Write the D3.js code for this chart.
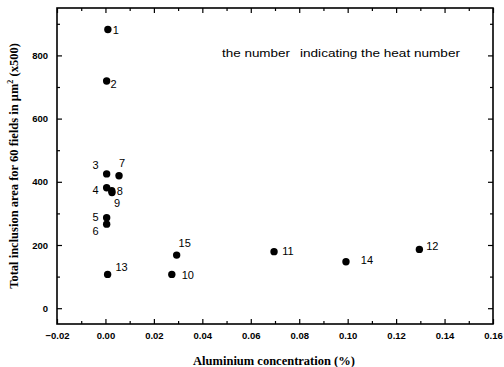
<!DOCTYPE html>
<html>
<head>
<meta charset="utf-8">
<script src="https://cdn.jsdelivr.net/npm/d3@7"></script>
<style>
    body { margin: 0; background: #fff; }
    svg { display: block; }
</style>
</head>
<body>
<svg id="chart"></svg>
<script>
//// DATA

// heat numbers and their measured values
const heats = [1, 2, 3, 4, 5, 6, 7, 8, 9, 10, 11, 12, 13, 14, 15];
const aluminium = [0.001, 0.0005, 0.0005, 0.0005, 0.0005, 0.0005, 0.0056, 0.0026, 0.0027, 0.0274, 0.0696, 0.1296, 0.0009, 0.0993, 0.0294];
const inclusionArea = [882, 719, 425, 381, 286, 266, 419, 372, 366, 107, 179, 186, 107, 147, 168];

const xTicks = [-0.02, 0, 0.02, 0.04, 0.06, 0.08, 0.10, 0.12, 0.14, 0.16];
const yTicks = [0, 200, 400, 600, 800];

// where each heat number sits next to its dot (px, label centre)
const labelOffset = {
    1: [8, 1], 2: [7, 3], 3: [-11, -9], 4: [-11, 2], 5: [-11, -1], 6: [-11, 7],
    7: [3, -13], 8: [8, 0], 9: [5, 10], 10: [16, 1], 11: [14, -1],
    12: [13, -3], 13: [14, -7], 14: [21, -2], 15: [8, -12]
};

//// SETTINGS
const width = 504;
const height = 367;
const margin = { top: 8, right: 11, bottom: 43, left: 57 };

const svg = d3.select("#chart").attr("width", width).attr("height", height);

const x = d3.scaleLinear().domain([-0.02, 0.16]).range([margin.left, width - margin.right]);
const y = d3.scaleLinear().domain([-50, 950]).range([height - margin.bottom, margin.top]);

const tickFont = "'Liberation Sans', Arial, sans-serif";
const titleFont = "'Liberation Serif', 'Times New Roman', serif";

//// DRAW
drawAxes();
drawPoints();
drawText();

function drawAxes() {
    let xMinor = d3.range(-0.01, 0.16, 0.02);
    let yMinor = d3.range(-100, 950, 100).filter(d => d % 200 != 0 && d > -50);

    // bottom axis with labels, ticks pointing in
    svg.append("g")
        .attr("transform", `translate(0,${height - margin.bottom})`)
        .call(d3.axisBottom(x).tickValues(xTicks).tickSize(-5).tickSizeOuter(0).tickPadding(8)
            .tickFormat(d3.format(".2f")));
    svg.append("g")
        .attr("transform", `translate(0,${height - margin.bottom})`)
        .call(d3.axisBottom(x).tickValues(xMinor).tickSize(-3).tickFormat(""));

    // top axis, no labels
    svg.append("g")
        .attr("transform", `translate(0,${margin.top})`)
        .call(d3.axisTop(x).tickValues(xTicks).tickSize(-5).tickFormat(""));
    svg.append("g")
        .attr("transform", `translate(0,${margin.top})`)
        .call(d3.axisTop(x).tickValues(xMinor).tickSize(-3).tickFormat(""));

    // left axis with labels
    svg.append("g")
        .attr("transform", `translate(${margin.left},0)`)
        .call(d3.axisLeft(y).tickValues(yTicks).tickSize(-5).tickSizeOuter(0).tickPadding(9));
    svg.append("g")
        .attr("transform", `translate(${margin.left},0)`)
        .call(d3.axisLeft(y).tickValues(yMinor).tickSize(-3).tickFormat(""));

    // right axis
    svg.append("g")
        .attr("transform", `translate(${width - margin.right},0)`)
        .call(d3.axisRight(y).tickValues(yTicks).tickSize(-5).tickFormat(""));
    svg.append("g")
        .attr("transform", `translate(${width - margin.right},0)`)
        .call(d3.axisRight(y).tickValues(yMinor).tickSize(-3).tickFormat(""));

    svg.selectAll(".domain").remove();
    svg.selectAll(".tick line").attr("stroke", "#000").attr("stroke-width", 1.2);
    svg.selectAll(".tick text")
        .attr("fill", "#000")
        .style("font-family", tickFont)
        .style("font-weight", "bold")
        .style("font-size", "9.5px");

    // frame
    svg.append("rect")
        .attr("x", margin.left)
        .attr("y", margin.top)
        .attr("width", width - margin.left - margin.right)
        .attr("height", height - margin.top - margin.bottom)
        .attr("fill", "none")
        .attr("stroke", "#000")
        .attr("stroke-width", 1.6);
}

function drawPoints() {
    let points = heats.map((h, i) => ({ heat: h, al: aluminium[i], area: inclusionArea[i] }));

    svg.append("g")
        .selectAll("circle")
        .data(points)
        .enter()
        .append("circle")
        .attr("cx", d => x(d.al))
        .attr("cy", d => y(d.area))
        .attr("r", 3.7)
        .attr("fill", "#000");

    svg.append("g")
        .selectAll("text")
        .data(points)
        .enter()
        .append("text")
        .attr("x", d => x(d.al) + labelOffset[d.heat][0])
        .attr("y", d => y(d.area) + labelOffset[d.heat][1])
        .attr("text-anchor", "middle")
        .attr("dominant-baseline", "central")
        .style("font-family", tickFont)
        .style("font-size", "11px")
        .text(d => d.heat);
}

function drawText() {
    // annotation, two pieces with the wide gap between them
    svg.append("text")
        .attr("x", 222)
        .attr("y", 57)
        .attr("textLength", 68)
        .attr("lengthAdjust", "spacingAndGlyphs")
        .style("font-family", tickFont)
        .style("font-size", "11px")
        .text("the number");
    svg.append("text")
        .attr("x", 300)
        .attr("y", 57)
        .attr("textLength", 160)
        .attr("lengthAdjust", "spacingAndGlyphs")
        .style("font-family", tickFont)
        .style("font-size", "11px")
        .text("indicating the heat number");

    svg.append("text")
        .attr("x", 274)
        .attr("y", 365)
        .attr("text-anchor", "middle")
        .style("font-family", titleFont)
        .style("font-weight", "bold")
        .style("font-size", "12.5px")
        .text("Aluminium concentration (%)");

    let yTitle = svg.append("text")
        .attr("transform", `translate(18,${(margin.top + height - margin.bottom) / 2}) rotate(-90)`)
        .attr("text-anchor", "middle")
        .style("font-family", titleFont)
        .style("font-weight", "bold")
        .style("font-size", "12.5px");
    yTitle.append("tspan").text("Total inclusion area for 60 fields in \u03bcm");
    yTitle.append("tspan").attr("dy", -5).style("font-size", "8px").text("2");
    yTitle.append("tspan").attr("dy", 5).text(" (x500)");
}
</script>
</body>
</html>
